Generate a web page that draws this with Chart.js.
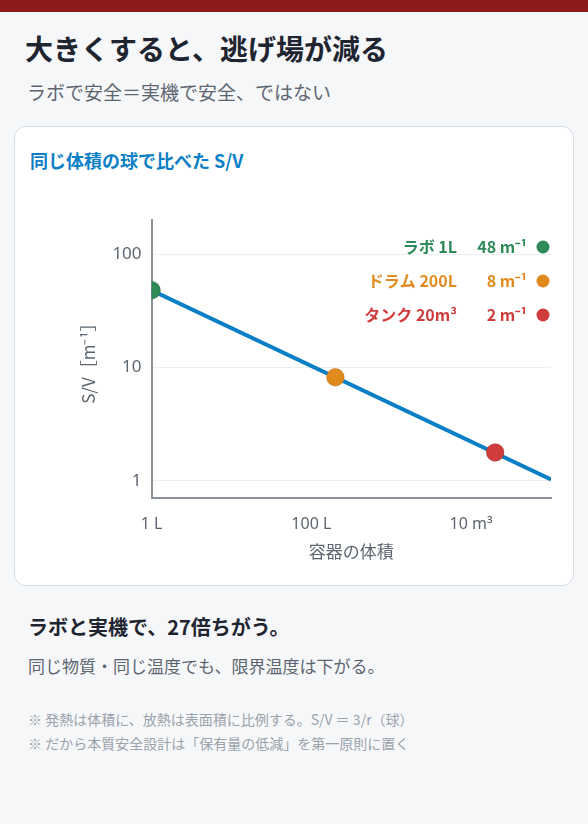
<!DOCTYPE html>
<html><head><meta charset="utf-8">
<script src="https://cdn.jsdelivr.net/npm/chart.js@4"></script>
<style>
body{margin:0;width:588px;height:824px;background:#f6f7f9;font-family:"Noto Sans CJK JP","Noto Sans",sans-serif;color:#1e2530;position:relative;overflow:hidden}
.bar{position:absolute;left:0;top:0;width:588px;height:12px;background:#8e1b1b}
.t{position:absolute;left:25px;top:28px;font-size:28px;font-weight:700;margin:0;line-height:40px}
.s{position:absolute;left:27px;top:78px;font-size:19px;color:#5d6670}
.card{position:absolute;left:14px;top:126px;width:558px;height:458px;background:#fff;border:1.5px solid #d9dee5;border-radius:12px}
.ct{position:absolute;left:15px;top:20px;font-size:18px;font-weight:700;color:#0b7fc6}
.cv{position:absolute;left:16px;top:70px;width:530px;height:369px}
.h{position:absolute;left:28px;top:612px;font-size:20px;font-weight:700}
.p{position:absolute;left:28px;top:653px;font-size:17px;color:#5d6670}
.n{position:absolute;left:28px;top:707px;font-size:14px;color:#9aa2ac;line-height:24px}
</style></head><body>
<div class="bar"></div>
<div class="t">大きくすると、逃げ場が減る</div>
<div class="s">ラボで安全＝実機で安全、ではない</div>
<div class="card"><div class="ct">同じ体積の球で比べた S/V</div><div class="cv"><canvas id="c"></canvas></div></div>
<div class="h">ラボと実機で、27倍ちがう。</div>
<div class="p">同じ物質・同じ温度でも、限界温度は下がる。</div>
<div class="n">※ 発熱は体積に、放熱は表面積に比例する。S/V ＝ 3/r（球）<br>※ だから本質安全設計は「保有量の低減」を第一原則に置く</div>
<script>
const lineX=[1,100000];
const lineY=[48,1.03];
const pointNames=["ラボ 1L","ドラム 200L","タンク 20m³"];
const pointX=[1,200,20000];
const pointY=[48,8.2,1.78];
const pointLabels=["48 m⁻¹","8 m⁻¹","2 m⁻¹"];
const pointColors=["#2e8b57","#e08a1e","#d03c3c"];
const xTicks={1:"1 L",100:"100 L",10000:"10 m³"};
const yTicks={1:"1",10:"10",100:"100"};
const labelPlugin={id:"lbl",afterDatasetsDraw(ch){
 const c=ch.ctx,a=ch.chartArea;c.save();
 pointNames.forEach((n,i)=>{const y=a.top+27+i*34;
  c.fillStyle=pointColors[i];c.beginPath();c.arc(a.right-8,y,6.5,0,7);c.fill();
  c.font="bold 16px 'Noto Sans CJK JP'";c.textAlign="right";c.textBaseline="middle";
  c.fillText(pointLabels[i],a.right-24,y);c.fillText(n,a.right-94,y);});
 c.restore();}};
new Chart(document.getElementById("c"),{type:"scatter",
 data:{datasets:[
  {data:pointX.map((x,i)=>({x,y:pointY[i]})),backgroundColor:pointColors,pointRadius:9,pointHoverRadius:9,showLine:false,order:0},
  {data:lineX.map((x,i)=>({x,y:lineY[i]})),borderColor:"#0a7fc6",borderWidth:4,showLine:true,pointRadius:0,order:1}]},
 options:{responsive:true,maintainAspectRatio:false,animation:false,
  layout:{padding:{left:43,right:0,top:23}},
  plugins:{legend:{display:false},tooltip:{enabled:false}},
  scales:{
   x:{type:"logarithmic",min:1,max:100000,
    afterBuildTicks(s){s.ticks=[1,100,10000].map(v=>({value:v}))},
    ticks:{callback:v=>xTicks[v],color:"#5d6670",font:{size:16,family:"Noto Sans"},maxRotation:0,padding:8},
    grid:{display:false},border:{color:"#8a9099",width:2},
    title:{display:true,text:"容器の体積",color:"#5d6670",font:{size:17,family:"Noto Sans CJK JP"},padding:{top:0}}},
   y:{type:"logarithmic",min:0.72,max:200,
    afterBuildTicks(s){s.ticks=[1,10,100].map(v=>({value:v}))},
    ticks:{callback:v=>yTicks[v],color:"#5d6670",font:{size:17,family:"Noto Sans"},padding:10},
    grid:{color:"#eceff2",drawTicks:false},border:{color:"#8a9099",width:2},
    title:{display:true,text:"S/V［m⁻¹］",color:"#5d6670",font:{size:17,family:"Noto Sans CJK JP"},padding:{bottom:4}}}}},
 plugins:[labelPlugin]});
</script></body></html>
